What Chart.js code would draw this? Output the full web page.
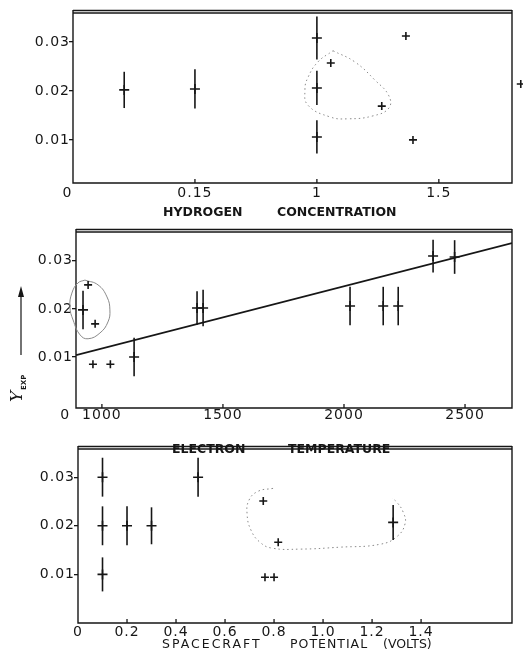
<!DOCTYPE html>
<html>
<head>
<meta charset="utf-8">
<script src="https://cdn.jsdelivr.net/npm/chart.js@4"></script>
<style>
  body { margin: 0; background: #fff; }
  #wrap { position: relative; width: 523px; height: 663px; }
  canvas { position: absolute; left: 0; }
</style>
</head>
<body>
<div id="wrap">
  <canvas id="c1"></canvas>
  <canvas id="c2"></canvas>
  <canvas id="c3"></canvas>
</div>
<script>
// ---- data ----
const yTicks = [0.01, 0.02, 0.03];
const yLabels = ['0.01', '0.02', '0.03'];

// hydrogen concentration panel
const hydX = [1.836, 0.21, 0.5, 1.0, 1.0, 1.0, 1.057, 1.266, 1.365, 1.394];
const hydY = [0.0214, 0.0202, 0.0204, 0.0308, 0.0206, 0.0106, 0.0257, 0.0169, 0.0312, 0.0100];
const hydErr = [0, 0.0037, 0.004, 0.0044, 0.0035, 0.0034, 0, 0, 0, 0];
const hydTicks = [0, 0.5, 1, 1.5];
const hydTickLabels = ['0  ', '0.15', '1', '1.5'];
const hydLoopX = [1.066, 1.156, 1.238, 1.295, 1.295, 1.230, 1.127, 1.053, 0.963, 0.951, 0.963, 1.004];
const hydLoopY = [0.0282, 0.0259, 0.0222, 0.0190, 0.0165, 0.0149, 0.0143, 0.0147, 0.0171, 0.0202, 0.0227, 0.0259];

// electron temperature panel
const tempX = [922, 943, 972, 963, 1035, 1133, 1393, 1418, 2025, 2162, 2224, 2368, 2457];
const tempY = [0.0198, 0.0250, 0.0169, 0.0085, 0.0085, 0.0100, 0.0202, 0.0202, 0.0206, 0.0206, 0.0206, 0.0310, 0.0308];
const tempErr = [0.004, 0, 0, 0, 0, 0.004, 0.0035, 0.0038, 0.004, 0.004, 0.004, 0.0034, 0.0035];
const tempTicks = [893, 1000, 1500, 2000, 2500];
const tempTickLabels = ['0    ', '1000', '1500', '2000', '2500'];
const fitX = [893, 2694];
const fitY = [0.0104, 0.0337];
const tempLoopX = [930, 984, 1021, 1033, 1025, 992, 943, 910, 881, 868, 876, 901];
const tempLoopY = [0.0260, 0.0250, 0.0225, 0.0198, 0.0173, 0.0150, 0.0138, 0.0146, 0.0177, 0.0204, 0.0233, 0.0254];

// spacecraft potential panel
const potX = [0.1, 0.1, 0.1, 0.2, 0.3, 0.49, 0.756, 0.817, 0.763, 0.8, 1.286];
const potY = [0.030, 0.020, 0.010, 0.020, 0.020, 0.030, 0.0251, 0.0166, 0.0094, 0.0094, 0.0207];
const potErr = [0.004, 0.004, 0.0035, 0.004, 0.0038, 0.004, 0, 0, 0, 0, 0.0036];
const potTicks = [0, 0.2, 0.4, 0.6, 0.8, 1.0, 1.2, 1.4];
const potTickLabels = ['0', '0.2', '0.4', '0.6', '0.8', '1.0', '1.2', '1.4'];
const potLoopX = [0.796, 0.735, 0.698, 0.690, 0.706, 0.743, 0.792, 0.906, 1.069, 1.233, 1.302, 1.335, 1.327, 1.302, 1.282];
const potLoopY = [0.0277, 0.0271, 0.0253, 0.0224, 0.0191, 0.0166, 0.0154, 0.0152, 0.0156, 0.0162, 0.0178, 0.0205, 0.0228, 0.0248, 0.0257];

const INK = '#161616';
const TICK_FONT = { family: 'DejaVu Sans', size: 14 };

function pts(xs, ys) {
  return xs.map((v, i) => ({ x: v, y: ys[i] }));
}

function crossSize(e) {
  return e ? 5 : 4;
}

function marks(xs, ys, errs) {
  return {
    data: pts(xs, ys),
    errors: errs,
    pointStyle: 'cross',
    pointRadius: errs.map(crossSize),
    pointBorderWidth: 1.6,
    pointBorderColor: INK,
    borderColor: INK,
    showLine: false,
    clip: false
  };
}

function outline(xs, ys, closed, dash) {
  let d = pts(xs, ys);
  if (closed) d = d.concat([d[0]]);
  return {
    data: d,
    showLine: true,
    pointRadius: 0,
    borderColor: '#8a8a8a',
    borderWidth: 1,
    borderDash: dash,
    tension: 0.45,
    clip: false
  };
}

// box with double rule on top, small inward ticks on x
const frame = {
  id: 'frame',
  beforeDatasetsDraw(chart) {
    const { ctx, chartArea: a, scales: { x } } = chart;
    ctx.save();
    ctx.strokeStyle = INK;
    ctx.lineWidth = 1.4;
    ctx.beginPath();
    ctx.moveTo(a.left, a.top - 3);
    ctx.lineTo(a.left, a.bottom);
    ctx.lineTo(a.right, a.bottom);
    ctx.lineTo(a.right, a.top - 3);
    ctx.stroke();
    ctx.lineWidth = 1.3;
    [a.top, a.top - 2.5].forEach(yy => {
      ctx.beginPath();
      ctx.moveTo(a.left, yy);
      ctx.lineTo(a.right, yy);
      ctx.stroke();
    });
    x.ticks.forEach(t => {
      const px = x.getPixelForValue(t.value);
      if (px - a.left < 3) return;
      ctx.beginPath();
      ctx.moveTo(px, a.bottom);
      ctx.lineTo(px, a.bottom - 4);
      ctx.stroke();
    });
    ctx.restore();
  },
  beforeDraw(chart) { chart.ctx.letterSpacing = '1px'; },
  afterDraw(chart) { chart.ctx.letterSpacing = '0px'; }
};

// vertical error bars; also the crosses that sit outside the box
// (Chart.js skips points beyond the chart area)
const errorBars = {
  id: 'errorBars',
  afterDatasetsDraw(chart) {
    const { ctx, chartArea: a, scales: { x, y } } = chart;
    ctx.save();
    ctx.strokeStyle = INK;
    ctx.lineWidth = 1.6;
    chart.data.datasets.forEach(ds => {
      if (!ds.errors) return;
      ds.data.forEach((p, i) => {
        const e = ds.errors[i];
        const px = x.getPixelForValue(p.x);
        const py = y.getPixelForValue(p.y);
        if (px > a.right + 2 || px < a.left - 2) {
          const r = crossSize(e);
          ctx.beginPath();
          ctx.moveTo(px - r, py); ctx.lineTo(px + r, py);
          ctx.moveTo(px, py - r); ctx.lineTo(px, py + r);
          ctx.stroke();
        }
        if (!e) return;
        ctx.beginPath();
        ctx.moveTo(px, y.getPixelForValue(p.y - e));
        ctx.lineTo(px, y.getPixelForValue(p.y + e));
        ctx.stroke();
      });
    });
    ctx.restore();
  }
};

// x axis caption, word by word (the figure spaces them widely)
function caption(words, lefts, yy, bold, spacing) {
  return {
    id: 'caption',
    afterDraw(chart) {
      const ctx = chart.ctx;
      ctx.save();
      ctx.fillStyle = INK;
      ctx.textBaseline = 'middle';
      ctx.font = (bold ? 'bold ' : '') + '12.5px "DejaVu Sans"';
      words.forEach((w, i) => {
        ctx.letterSpacing = spacing[i] + 'px';
        ctx.fillText(w, lefts[i], yy);
      });
      ctx.restore();
    }
  };
}

// Y_EXP label with arrow, left of the middle panel
const yexp = {
  id: 'yexp',
  afterDraw(chart) {
    const ctx = chart.ctx;
    ctx.save();
    ctx.strokeStyle = INK;
    ctx.fillStyle = INK;
    ctx.lineWidth = 1.2;
    ctx.beginPath();
    ctx.moveTo(21, 133);
    ctx.lineTo(21, 72);
    ctx.stroke();
    ctx.beginPath();
    ctx.moveTo(21, 64);
    ctx.lineTo(18, 75);
    ctx.lineTo(24, 75);
    ctx.closePath();
    ctx.fill();
    ctx.translate(22, 180);
    ctx.rotate(-Math.PI / 2);
    ctx.textBaseline = 'alphabetic';
    ctx.font = 'italic 17px "DejaVu Serif"';
    ctx.fillText('Y', 0, 0);
    ctx.font = 'bold 7px "DejaVu Sans"';
    ctx.fillText('EXP', 12, 4);
    ctx.restore();
  }
};

function panel(id, top, height, o) {
  const canvas = document.getElementById(id);
  canvas.style.top = top + 'px';
  canvas.width = 523;
  canvas.height = height;
  return new Chart(canvas, {
    type: 'scatter',
    data: { datasets: o.datasets },
    options: {
      responsive: false,
      animation: false,
      layout: { padding: { top: o.areaTop - top, right: 11, left: 0, bottom: 0 } },
      plugins: { legend: { display: false }, tooltip: { enabled: false } },
      scales: {
        x: {
          type: 'linear',
          min: o.xMin,
          max: o.xMax,
          afterFit: s => { s.height = top + height - o.areaBottom; },
          afterBuildTicks: s => { s.ticks = o.xTicks.map(v => ({ value: v })); },
          grid: { display: false, drawTicks: false },
          border: { display: false },
          ticks: {
            color: INK, font: TICK_FONT, padding: o.xPad,
            maxRotation: 0, autoSkip: false,
            callback: (v, i) => o.xLabels[i]
          }
        },
        y: {
          min: o.yMin,
          max: o.yMax,
          afterFit: s => { s.width = o.areaLeft; },
          afterBuildTicks: s => { s.ticks = yTicks.map(v => ({ value: v })); },
          grid: { drawOnChartArea: false, color: INK, tickLength: 4, lineWidth: 1.3 },
          border: { display: false },
          ticks: {
            color: INK, font: TICK_FONT, padding: -1,
            callback: (v, i) => yLabels[i]
          }
        }
      }
    },
    plugins: [frame, errorBars].concat(o.extra)
  });
}

panel('c1', 0, 222, {
  areaTop: 13, areaBottom: 183, areaLeft: 73,
  xMin: 0, xMax: 1.8, yMin: 0.0012, yMax: 0.0359,
  xTicks: hydTicks, xLabels: hydTickLabels, xPad: 2,
  datasets: [marks(hydX, hydY, hydErr), outline(hydLoopX, hydLoopY, true, [1.5, 3])],
  extra: [caption(['HYDROGEN', 'CONCENTRATION'], [163, 277], 213, true, [0, 0])]
});

panel('c2', 222, 238, {
  areaTop: 232, areaBottom: 408, areaLeft: 76,
  xMin: 893, xMax: 2694, yMin: -0.0006, yMax: 0.036,
  xTicks: tempTicks, xLabels: tempTickLabels, xPad: -1,
  datasets: [
    marks(tempX, tempY, tempErr),
    { data: pts(fitX, fitY), showLine: true, pointRadius: 0, borderColor: INK, borderWidth: 1.8 },
    outline(tempLoopX, tempLoopY, true, [])
  ],
  extra: [caption(['ELECTRON', 'TEMPERATURE'], [172, 288], 228, true, [0, 0]), yexp]
});

panel('c3', 440, 223, {
  areaTop: 449, areaBottom: 623, areaLeft: 78,
  xMin: 0, xMax: 1.771, yMin: 0, yMax: 0.0358,
  xTicks: potTicks, xLabels: potTickLabels, xPad: 1,
  datasets: [marks(potX, potY, potErr), outline(potLoopX, potLoopY, false, [1.5, 3])],
  extra: [caption(['SPACECRAFT', 'POTENTIAL', '(VOLTS)'], [162, 290, 383], 205, false, [2, 1, 0])]
});
</script>
</body>
</html>
